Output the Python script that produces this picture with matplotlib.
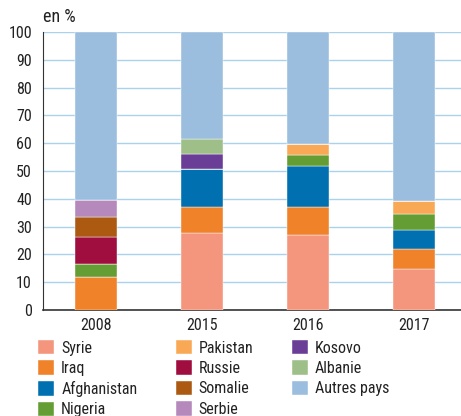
import numpy as np
import matplotlib.pyplot as plt

plt.rcParams['font.family'] = ['Roboto Condensed', 'DejaVu Sans']

years = ['2008', '2015', '2016', '2017']
pays = ['Syrie', 'Iraq', 'Afghanistan', 'Nigeria', 'Pakistan', 'Russie',
        'Somalie', 'Serbie', 'Kosovo', 'Albanie', 'Autres pays']
couleurs = ['#F4967D', '#F0822A', '#0070B0', '#659D35', '#F9A855', '#A00D3F',
            '#AC5A12', '#B589BC', '#6A3E96', '#9FBF89', '#9BBDDE']

# parts en % par annee (2008, 2015, 2016, 2017)
syrie = [0, 27.8, 27.0, 14.7]
iraq = [12.0, 9.2, 10.0, 7.2]
afghanistan = [0, 13.7, 14.9, 7.0]
nigeria = [4.5, 0, 3.8, 5.7]
pakistan = [0, 0, 4.0, 4.6]
russie = [9.8, 0, 0, 0]
somalie = [7.1, 0, 0, 0]
serbie = [6.0, 0, 0, 0]
kosovo = [0, 5.4, 0, 0]
albanie = [0, 5.3, 0, 0]
autres = [60.6, 38.6, 40.3, 60.8]

series = [syrie, iraq, afghanistan, nigeria, pakistan, russie,
          somalie, serbie, kosovo, albanie, autres]

fig = plt.figure(figsize=(4.61, 4.16), dpi=100)
ax = fig.add_axes([43/461, 106/416, 418/461, 278/416])

x = np.arange(len(years))
bas = np.zeros(len(years))
for nom, vals, c in zip(pays, series, couleurs):
    vals = np.array(vals)
    ax.bar(x, vals, 0.4, bottom=bas, color=c, label=nom,
           edgecolor='white', linewidth=0.3, zorder=3)
    bas += vals

ax.set_ylim(0, 100)
ax.set_xlim(-0.5, 3.443)
ax.set_yticks(range(0, 101, 10))
ax.set_xticks(x)
ax.set_xticklabels(years)
ax.tick_params(length=0, labelsize=11.5, colors='#222222')
ax.tick_params(axis='y', pad=8)
ax.tick_params(axis='x', pad=6)
ax.yaxis.grid(True, color='#A9D3EC', linewidth=1, zorder=0)
for s in ['top', 'right']:
    ax.spines[s].set_visible(False)
ax.spines['left'].set_color('#333333')
ax.spines['bottom'].set_color('#333333')
ax.spines['bottom'].set_linewidth(1.2)

fig.text(43/461, 1 - 17/416, 'en %', fontsize=13, va='center', ha='left',
         color='#222222')

leg = fig.legend(loc='upper left', bbox_to_anchor=(38/461, 1 - 340/416),
                 ncol=3, frameon=False, fontsize=11.5, handlelength=1.0,
                 handleheight=1.0, handletextpad=0.45, columnspacing=2.4,
                 labelspacing=0.3, borderpad=0, borderaxespad=0)
for t in leg.get_texts():
    t.set_color('#222222')

fig.savefig('out.png', dpi=100)
